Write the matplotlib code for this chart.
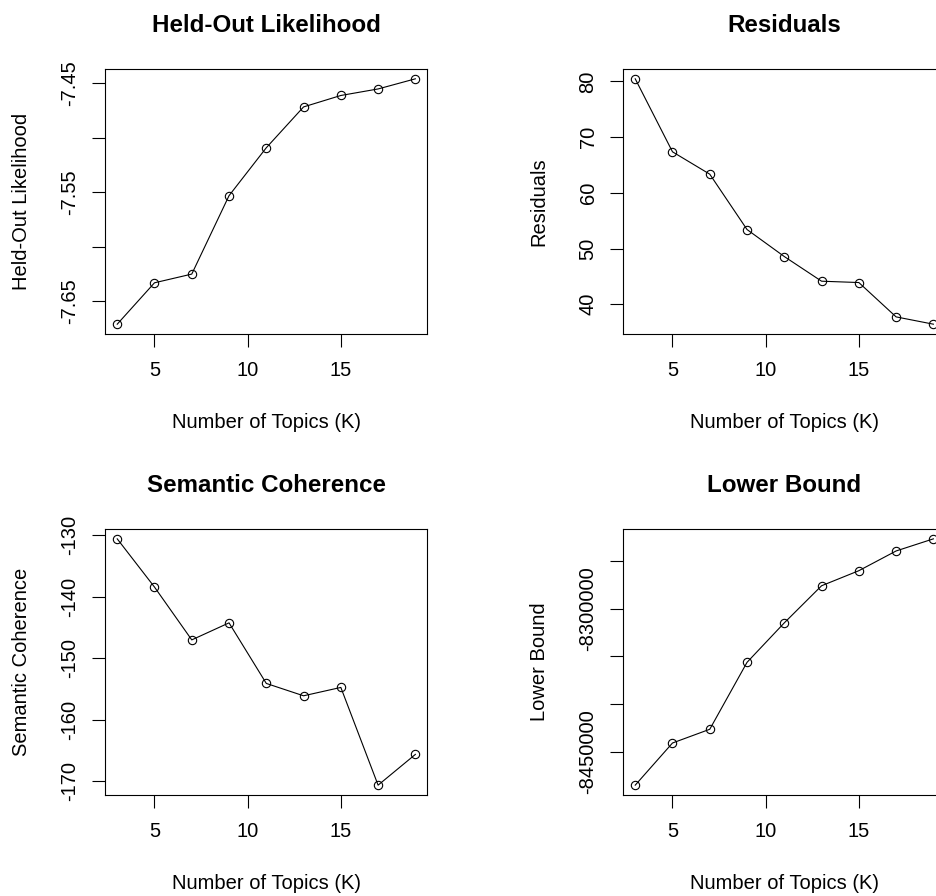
import matplotlib
matplotlib.use("Agg")
import matplotlib.pyplot as plt

plt.rcParams["font.family"] = ["Liberation Sans", "DejaVu Sans"]

K = [3, 5, 7, 9, 11, 13, 15, 17, 19]

heldout = [-7.671, -7.633, -7.625, -7.553, -7.509, -7.4715, -7.461, -7.455, -7.4457]
residuals = [80.48, 67.37, 63.35, 53.41, 48.56, 44.13, 43.89, 37.72, 36.41]
semcoh = [-130.6, -138.44, -147.03, -144.26, -154.11, -156.12, -154.76, -170.65, -165.65]
bound = [-8485100, -8440900, -8426500, -8356300, -8314900, -8276000, -8260200, -8239500, -8226800]

x_ticks = [5, 10, 15]

heldout_ticks = [-7.65, -7.60, -7.55, -7.50, -7.45]
heldout_labels = ["-7.65", "", "-7.55", "", "-7.45"]
resid_ticks = [40, 50, 60, 70, 80]
resid_labels = ["40", "50", "60", "70", "80"]
semcoh_ticks = [-170, -160, -150, -140, -130]
semcoh_labels = ["-170", "-160", "-150", "-140", "-130"]
bound_ticks = [-8450000, -8400000, -8350000, -8300000, -8250000]
bound_labels = ["-8450000", "", "", "-8300000", ""]

panels = [
    ("Held-Out Likelihood", heldout, heldout_ticks, heldout_labels),
    ("Residuals", residuals, resid_ticks, resid_labels),
    ("Semantic Coherence", semcoh, semcoh_ticks, semcoh_labels),
    ("Lower Bound", bound, bound_ticks, bound_labels),
]

W, H = 937, 896
fig = plt.figure(figsize=(W / 100, H / 100), dpi=100)

# box positions in pixels (left, top, width, height), right column runs off the edge
boxes = [
    (105.3, 69, 322, 265),
    (623.3, 69, 322, 265),
    (105.3, 529, 322, 266),
    (623.3, 529, 322, 266),
]

fs = 14.5
for (title, vals, yt, yl), (bx, by, bw, bh) in zip(panels, boxes):
    ax = fig.add_axes([bx / W, 1 - (by + bh) / H, bw / W, bh / H])
    ax.plot(K, vals, color="black", lw=0.8, marker="o", ms=6,
            mfc="none", mec="black", mew=0.8)
    ax.margins(0.04)
    ax.set_xticks(x_ticks)
    ax.set_xticklabels([str(t) for t in x_ticks], fontsize=fs)
    ax.set_yticks(yt)
    ax.set_yticklabels(yl, fontsize=fs, rotation=90, va="center")
    ax.tick_params(length=9.5, width=0.8, color="black")
    ax.tick_params(axis="x", pad=10)
    ax.tick_params(axis="y", pad=9)
    for s in ax.spines.values():
        s.set_linewidth(0.8)
    ax.set_xlabel("Number of Topics (K)", fontsize=fs)
    ax.xaxis.set_label_coords(0.5, -88 / bh)
    ax.xaxis.label.set_va("center")
    ax.set_ylabel(title, fontsize=fs)
    ax.yaxis.set_label_coords(-84 / bw, 0.5)
    ax.yaxis.label.set_va("center")
    ax.text(0.5, 1 + 46 / bh, title, transform=ax.transAxes, ha="center",
            va="center_baseline", fontsize=17.4, fontweight="bold")

fig.savefig("out.png", dpi=100)
